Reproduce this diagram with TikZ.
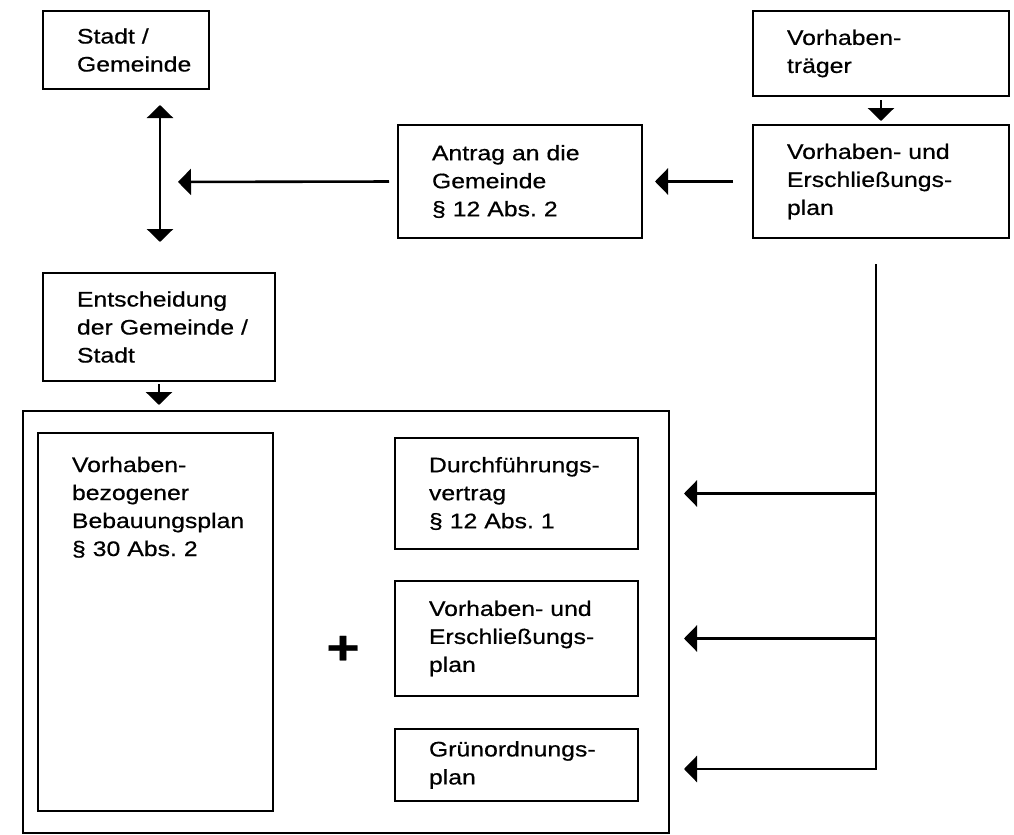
\documentclass[tikz,border=0pt]{standalone}
\usepackage{fontspec}
\setmainfont[FakeStretch=1.18,FakeBold=0.6]{Liberation Sans}
\usepackage{tikz}
\usetikzlibrary{arrows.meta}
\tikzset{
    box/.style={draw, line width=1pt, inner sep=0pt, align=left, anchor=north west,%
    font=\fontsize{10.5}{14}\selectfont, execute at begin node={\leftskip=17pt}},
    frame/.style={draw, line width=1pt, inner sep=0pt, anchor=north west},
    arr/.style={-{Triangle[width=13pt,length=6.5pt]}, line width=1.3pt},
    darr/.style={{Triangle[width=13pt,length=6.5pt]}-{Triangle[width=13pt,length=6.5pt]}, line width=1.3pt},
}
\begin{document}
\begin{tikzpicture}[x=0.5pt,y=-0.5pt]
    \useasboundingbox (0,0) rectangle (1014,835);
    \node (stadt) [box, text width=83pt, minimum height=39pt] at (42,10) {Stadt /\\Gemeinde};
    \node (traeger) [box, text width=128pt, minimum height=42.5pt] at (752,10) {Vorhaben-\\träger};
    \node (antrag) [box, text width=122pt, minimum height=56.5pt] at (397,124) {Antrag an die\\Gemeinde\\§ 12 Abs.\ 2};
    \node (vep) [box, text width=128pt, minimum height=56.5pt] at (752,124) {Vorhaben- und\\Erschließungs-\\plan};
    \node (ent) [box, text width=116pt, minimum height=54pt] at (42,272) {Entscheidung\\der Gemeinde /\\Stadt};
    \node (outer) [frame, minimum width=323pt, minimum height=211pt] at (22,410) {};
    \node (bplan) [box, text width=117.5pt, text height=19.5pt, text depth=169.5pt] at (37,432) {Vorhaben-\\bezogener\\Bebauungsplan\\§ 30 Abs.\ 2};
    \node (dfv) [box, text width=121.5pt, minimum height=55.5pt] at (394,437) {Durchführungs-\\vertrag\\§ 12 Abs.\ 1};
    \node (vep2) [box, text width=121.5pt, minimum height=57.5pt] at (394,580) {Vorhaben- und\\Erschließungs-\\plan};
    \node (gruen) [box, text width=121.5pt, minimum height=36pt] at (394,728) {Grünordnungs-\\plan};
    \node (plus) [font=\fontsize{24}{24}\selectfont\bfseries] at (343,650) {+};

    \coordinate (j) at (160,182);
    \coordinate (t) at ([xshift=-2.5pt]vep.south);
    \draw[darr, shorten <=7.5pt, shorten >=15pt] (j |- stadt.south) -- (j |- ent.north);
    \draw[arr, shorten <=4pt, shorten >=9pt] (antrag.west) -- (j);
    \draw[arr, shorten <=9.5pt, shorten >=6pt] (vep.west) -- (antrag.east);
    \draw[arr, shorten <=1.5pt, shorten >=1.5pt] (traeger.south) -- (vep.north);
    \draw[arr, shorten <=1pt, shorten >=2.5pt] (ent.south) -- (ent.south |- outer.north);
    \draw[arr, shorten <=12.5pt, shorten >=7pt] (t) |- ([yshift=-2pt]gruen.center -| outer.east);
    \draw[arr, shorten >=7pt] (t |- dfv) -- (outer.east |- dfv);
    \draw[arr, shorten >=7pt] (t |- vep2) -- (outer.east |- vep2);
\end{tikzpicture}
\end{document}
